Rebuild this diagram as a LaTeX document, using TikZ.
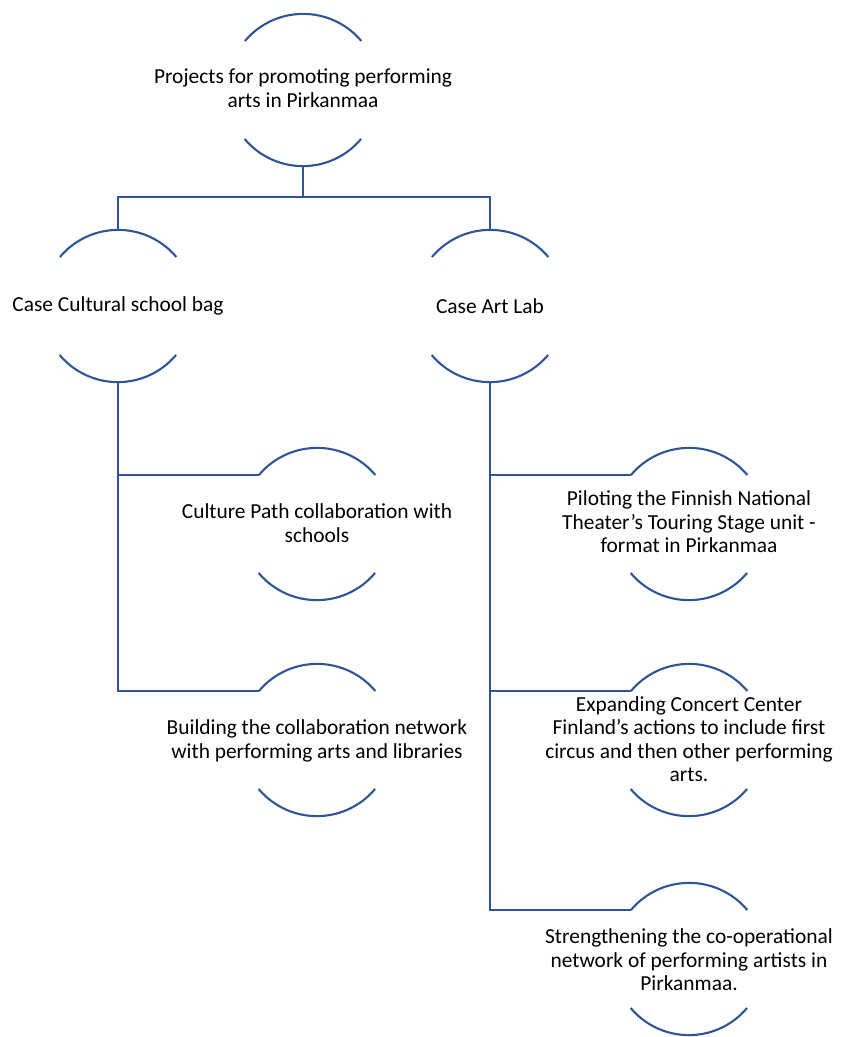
\documentclass[tikz,border=0pt]{standalone}
\usepackage{fontspec}
\setmainfont{Carlito}
\definecolor{lcol}{RGB}{47,85,151}
\tikzset{every picture/.style={x=1pt,y=1pt}}
\tikzset{ring/.style={circle,inner sep=0pt,minimum size=152}}
\tikzset{caption/.style={align=center,inner sep=0pt,font=\fontsize{21.4}{23.4}\selectfont}}
\tikzset{link/.style={lcol,line width=2.1pt}}
\tikzset{arcs/.style={lcol,line width=2.1pt}}
\newcommand{\rings}[1]{%
\draw [arcs] (#1.40) arc [start angle=40,end angle=140,radius=76];
\draw [arcs] (#1.220) arc [start angle=220,end angle=320,radius=76];}

\begin{document}
\begin{tikzpicture}
\useasboundingbox (0,0) rectangle (843,-1037);

\node [ring] (top) at (303,-90) {};
\node [ring] (l1) at (118,-306) {};
\node [ring] (r1) at (490,-306) {};
\node [ring] (c1) at (317,-524) {};
\node [ring] (c2) at (317,-740) {};
\node [ring] (d1) at (689,-524) {};
\node [ring] (d2) at (689,-740) {};
\node [ring] (d3) at (689,-959) {};

\rings{top}
\rings{l1}
\rings{r1}
\rings{c1}
\rings{c2}
\rings{d1}
\rings{d2}
\rings{d3}

\node [caption] (top-t) at (303,-88) {Projects for promoting performing\\arts in Pirkanmaa};
\node [caption] (l1-t) at (118,-306) {Case Cultural school bag};
\node [caption] (r1-t) at (490,-306) {Case Art Lab};
\node [caption] (c1-t) at (317,-523) {Culture Path collaboration with\\schools};
\node [caption] (c2-t) at (317,-741) {Building the collaboration network\\with performing arts and libraries};
\node [caption] (d1-t) at (689,-522) {Piloting the Finnish National\\Theater’s Touring Stage unit -\\format in Pirkanmaa};
\node [caption] (d2-t) at (689,-739) {Expanding Concert Center\\Finland’s actions to include first\\circus and then other performing\\arts.};
\node [caption] (d3-t) at (689,-960) {Strengthening the co-operational\\network of performing artists in\\Pirkanmaa.};

\draw [link] (top.south) -- ++(0,-31) -| (l1.north);
\draw [link] (top.south) -- ++(0,-31) -| (r1.north);

\draw [link] (l1.south) |- (c1.140);
\draw [link] (l1.south) |- (c2.140);

\draw [link] (r1.south) |- (d1.140);
\draw [link] (r1.south) |- (d2.140);
\draw [link] (r1.south) |- (d3.140);
\end{tikzpicture}
\end{document}
